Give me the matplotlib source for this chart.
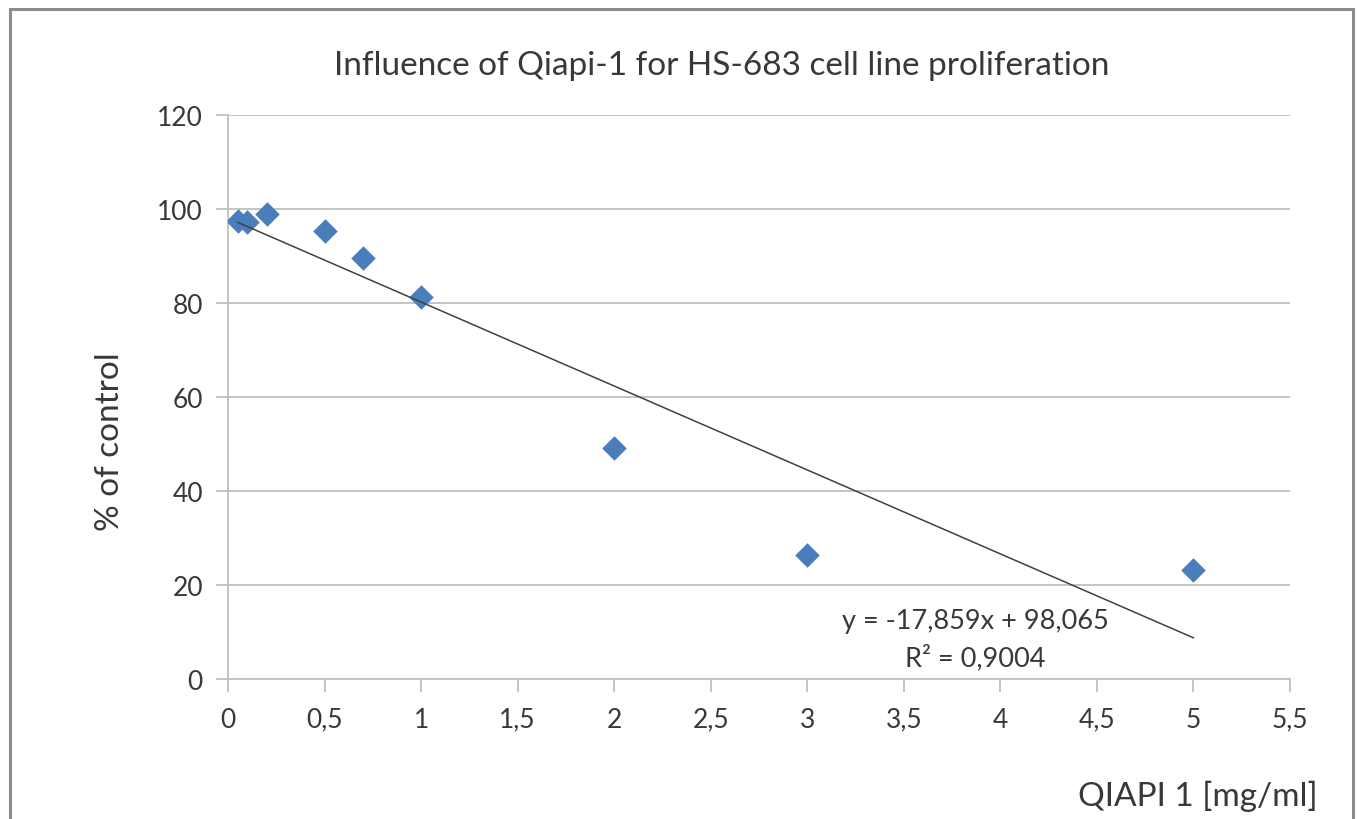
import numpy as np
import matplotlib.pyplot as plt
from matplotlib.ticker import FuncFormatter, MultipleLocator
from matplotlib.patches import Rectangle

plt.rcParams['font.family'] = ['Lato', 'DejaVu Sans']

# data
conc = [0.05, 0.1, 0.2, 0.5, 0.7, 1, 2, 3, 5]
pct_control = [97.4, 97.2, 98.9, 95.3, 89.6, 81.3, 49.1, 26.4, 23.2]

# trendline as printed on the chart
slope = -17.859
intercept = 98.065
r2 = 0.9004

fig = plt.figure(figsize=(13.57, 8.2), dpi=100)
ax = fig.add_axes([0.168, 0.1707, 0.7826, 0.6878])

text_col = '#383838'
grid_col = '#bfbfbf'

ax.scatter(conc, pct_control, marker='D', s=12.5**2, color='#4a7ebb', zorder=3, linewidths=0)

xs = np.array([conc[0], conc[-1]])
ax.plot(xs, slope * xs + intercept, color='#404040', lw=1.1, zorder=4)

ax.set_xlim(0, 5.5)
ax.set_ylim(0, 120)
ax.xaxis.set_major_locator(MultipleLocator(0.5))
ax.yaxis.set_major_locator(MultipleLocator(20))

comma = FuncFormatter(lambda v, p: ('%g' % v).replace('.', ','))
ax.xaxis.set_major_formatter(comma)
ax.yaxis.set_major_formatter(comma)

ax.grid(axis='y', color=grid_col, lw=1.3)
ax.set_axisbelow(True)
for s in ['top', 'right']:
    ax.spines[s].set_visible(False)
for s in ['left', 'bottom']:
    ax.spines[s].set_color(grid_col)
    ax.spines[s].set_linewidth(1.3)
ax.tick_params(axis='both', colors=grid_col, length=9, width=1.3, labelcolor=text_col, labelsize=19)
ax.tick_params(axis='x', pad=11)
ax.tick_params(axis='y', pad=9)

fig.text(0.532, 0.919, 'Influence of Qiapi-1 for HS-683 cell line proliferation',
         ha='center', va='center', fontsize=24, color=text_col)
fig.text(0.081, 0.462, '% of control', rotation=90, ha='center', va='center',
         fontsize=24, color=text_col)
fig.text(0.971, 0.029, 'QIAPI 1 [mg/ml]', ha='right', va='center',
         fontsize=24, color=text_col)

eq = 'y = -%sx + %s' % (('%.3f' % -slope).replace('.', ','), ('%.3f' % intercept).replace('.', ','))
ax.text(3.87, 8.4, eq + '\nR² = ' + ('%.4f' % r2).replace('.', ','),
        ha='center', va='center', fontsize=19.5, color=text_col, linespacing=1.5)

# outer chart border
fig.patches.append(Rectangle((10 / 1357, -0.05), 1343 / 1357, 1 - 10 / 820 + 0.05,
                             transform=fig.transFigure, fill=False,
                             edgecolor='#8c8c8c', lw=2.2))

fig.savefig('out.png', dpi=100)
